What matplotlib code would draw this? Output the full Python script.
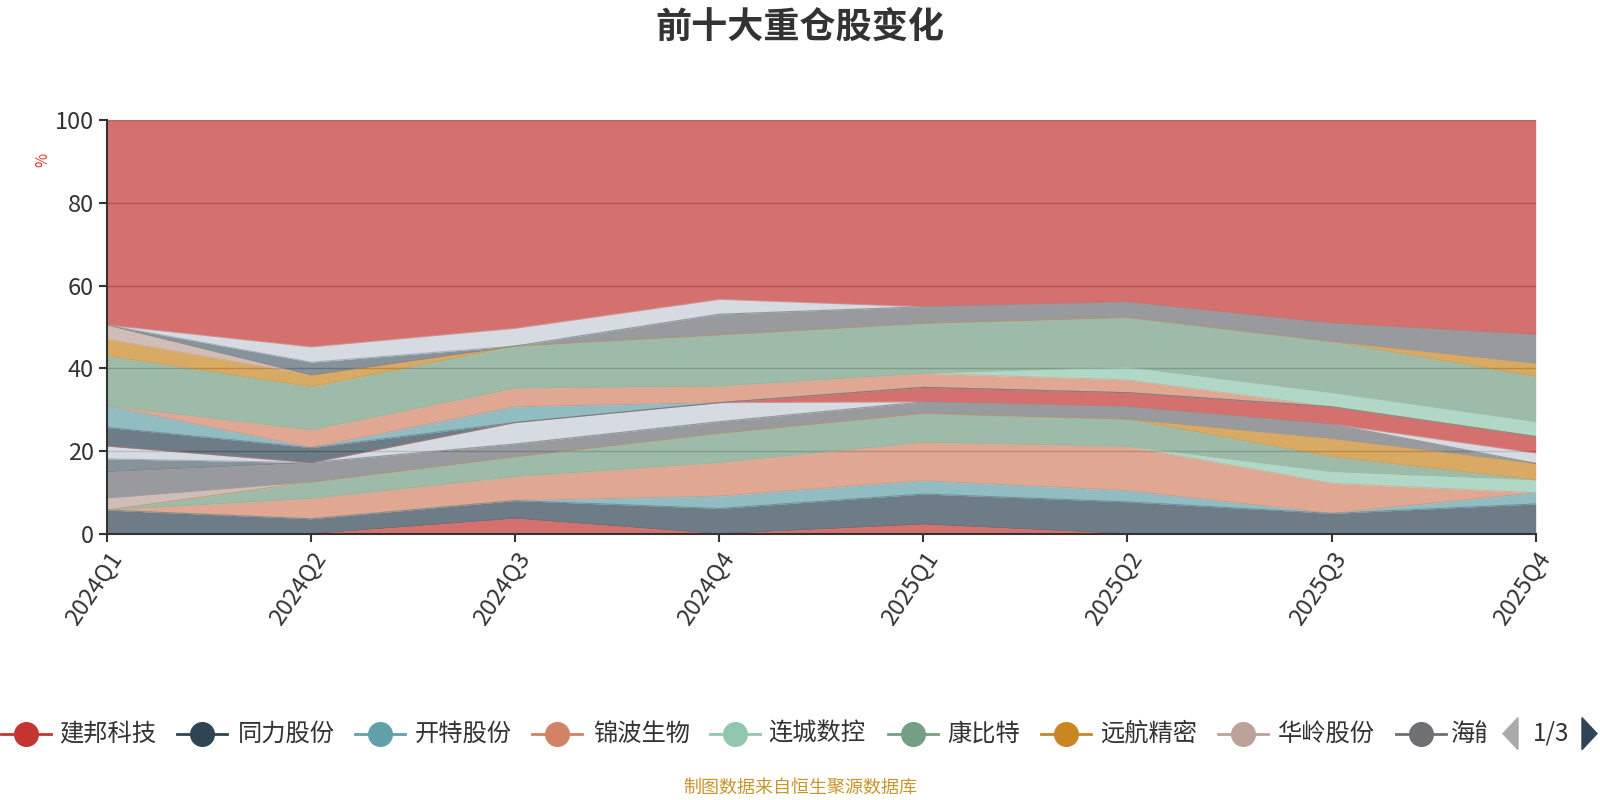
import matplotlib
matplotlib.use('Agg')
import matplotlib.pyplot as plt
from matplotlib.lines import Line2D
from matplotlib.transforms import Bbox
import numpy as np

plt.rcParams['font.family'] = ['Noto Sans CJK SC', 'DejaVu Sans']

quarters = ['2024Q1', '2024Q2', '2024Q3', '2024Q4', '2025Q1', '2025Q2', '2025Q3', '2025Q4']

names = ['建邦科技', '同力股份', '开特股份', '锦波生物', '连城数控', '康比特', '远航精密', '华岭股份',
         '海能技术', '吉冈精密', '诺思兰德', '艾融软件', '秉扬科技', '万通液压', '曙光数创', '颖泰生物',
         '欧福蛋业', '苏轴股份', '并行科技', '星昊医药', '贝特瑞', '五新隧装', '其他']

# holding ratio (%) per quarter, bottom of stack first
values = [
    [0.0, 0.0, 3.7, 0.0, 2.3, 0.0, 0.0, 0.0],
    [5.7, 3.6, 4.3, 6.1, 7.3, 7.7, 4.9, 7.2],
    [0.0, 0.0, 0.0, 3.0, 3.2, 2.7, 0.0, 2.7],
    [0.0, 4.9, 5.8, 8.1, 9.3, 10.7, 7.3, 0.0],
    [0.0, 0.0, 0.0, 0.0, 0.0, 0.0, 2.8, 3.1],
    [0.0, 4.0, 4.8, 7.1, 7.0, 6.6, 3.6, 0.0],
    [0.0, 0.0, 0.0, 0.0, 0.0, 0.0, 4.4, 4.0],
    [2.9, 0.0, 0.0, 0.0, 0.0, 0.0, 0.0, 0.0],
    [6.4, 4.7, 3.1, 2.8, 2.8, 3.0, 3.5, 0.0],
    [3.1, 0.0, 0.0, 0.0, 0.0, 0.0, 0.0, 0.0],
    [3.1, 0.0, 5.2, 4.6, 0.0, 0.0, 0.0, 2.5],
    [0.0, 0.0, 0.0, 0.0, 3.5, 3.4, 4.2, 4.0],
    [4.5, 3.6, 0.0, 0.0, 0.0, 0.0, 0.0, 0.0],
    [5.2, 0.0, 3.8, 0.0, 0.0, 0.0, 0.0, 0.0],
    [0.0, 4.3, 4.5, 4.0, 3.4, 3.1, 0.0, 0.0],
    [0.0, 0.0, 0.0, 0.0, 0.0, 3.1, 3.4, 3.6],
    [12.1, 10.4, 10.2, 12.4, 12.1, 12.0, 12.4, 10.9],
    [4.0, 2.9, 0.0, 0.0, 0.0, 0.0, 0.0, 3.2],
    [3.5, 0.0, 0.0, 0.0, 0.0, 0.0, 0.0, 0.0],
    [0.0, 0.0, 0.0, 5.0, 4.0, 3.7, 4.4, 6.9],
    [0.0, 3.1, 0.0, 0.0, 0.0, 0.0, 0.0, 0.0],
    [0.0, 3.7, 4.3, 3.6, 0.0, 0.0, 0.0, 0.0],
    [49.5, 54.8, 50.3, 43.3, 45.1, 44.0, 49.1, 51.9],
]

palette = ['#c23531', '#2f4554', '#61a0a8', '#d48265', '#91c7ae', '#749f83',
           '#ca8622', '#bda29a', '#6e7074', '#546570', '#c4ccd3']

fig = plt.figure(figsize=(16, 8), dpi=100)
ax = fig.add_axes([0.0669, 0.3329, 0.8929, 0.5166])

x = np.arange(len(quarters))
base = np.zeros(len(quarters))
for i, vals in enumerate(values):
    c = palette[i % len(palette)]
    top = base + np.array(vals)
    ax.fill_between(x, base, top, color=c, alpha=0.7, linewidth=0, zorder=2)
    ax.plot(x, top, color=c, alpha=0.35, linewidth=0.8, zorder=3)
    base = top

ax.set_xlim(0, len(quarters) - 1)
ax.set_ylim(0, 100)
ax.set_yticks([0, 20, 40, 60, 80, 100])
ax.yaxis.grid(True, color='#999999', linewidth=1, zorder=1)
ax.set_axisbelow(True)
ax.set_xticks(x)
ax.set_xticklabels(quarters, rotation=56, ha='right', va='top', rotation_mode='anchor')
ax.tick_params(axis='both', labelsize=17, colors='#333333', length=6, width=1.5)
ax.tick_params(axis='x', pad=4)
for s in ['top', 'right']:
    ax.spines[s].set_visible(False)
for s in ['left', 'bottom']:
    ax.spines[s].set_color('#333333')
    ax.spines[s].set_linewidth(1.5)
ax.spines['left'].set_zorder(4)
ax.spines['bottom'].set_zorder(4)

fig.text(0.5, 0.966, '前十大重仓股变化', ha='center', va='center', fontsize=26,
         fontweight='bold', color='#333333')
fig.text(0.027, 0.80, '%', ha='center', va='center', fontsize=11, color='#e0302a', rotation=90)

# legend (first page of a scrolling legend; the last item is cut off)
leg_y = 0.083
circles = [25.5, 202, 380, 557, 735, 913, 1066, 1243, 1421]
texts = [59, 238, 415, 593, 768, 947, 1100, 1278, 1450]
clip = Bbox.from_extents(0, 0, 1487, 800)
for i in range(9):
    c = palette[i % len(palette)]
    cx = circles[i] / 1600
    fig.add_artist(Line2D([cx - 25 / 1600, cx + 25 / 1600], [leg_y, leg_y], color=c,
                          linewidth=2, transform=fig.transFigure))
    fig.add_artist(Line2D([cx], [leg_y], marker='o', markersize=17, color=c,
                          transform=fig.transFigure))
    label = names[i] if i < 8 else names[i][:2]
    t = fig.text(texts[i] / 1600, leg_y, label, ha='left', va='center', fontsize=17.5,
                 color='#333333')
    t.set_clip_on(True)
    t.set_clip_box(clip)

fig.add_artist(plt.Polygon([[1518 / 1600, leg_y + 0.02], [1518 / 1600, leg_y - 0.02],
                            [1503 / 1600, leg_y]], closed=True, color='#aaaaaa',
                           transform=fig.transFigure))
fig.text(1551 / 1600, leg_y, '1/3', ha='center', va='center', fontsize=17.5, color='#333333')
fig.add_artist(plt.Polygon([[1582 / 1600, leg_y + 0.02], [1582 / 1600, leg_y - 0.02],
                            [1597 / 1600, leg_y]], closed=True, color='#2f4554',
                           transform=fig.transFigure))

fig.text(0.5, 0.015, '制图数据来自恒生聚源数据库', ha='center', va='center', fontsize=13,
         color='#c9962c')

fig.savefig('out.png', dpi=100)
